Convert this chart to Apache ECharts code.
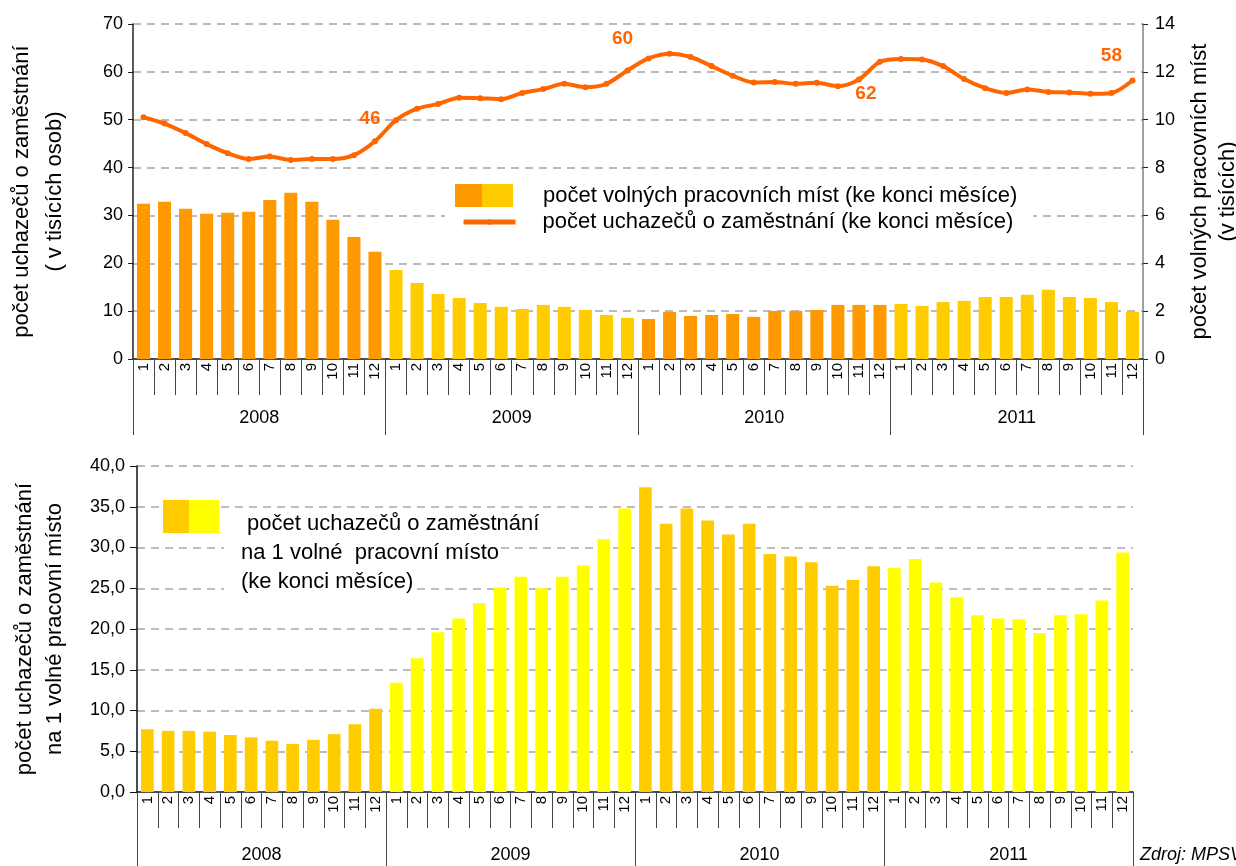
<!DOCTYPE html>
<html>
<head>
<meta charset="utf-8">
<script src="https://cdn.jsdelivr.net/npm/echarts@6/dist/echarts.min.js"></script>
<style>
  html, body { margin: 0; padding: 0; background: #fff; }
  #main { width: 1236px; height: 866px; }
</style>
</head>
<body>
<div id="main"></div>
<script>
// roky a měsíce (popisky osy x)
var years = ['2008', '2009', '2010', '2011'];
var monthLabels = ['1', '2', '3', '4', '5', '6', '7', '8', '9', '10', '11', '12'];

// počet volných pracovních míst (v tisících) - pravá osa
var vacancies = [
  6.49, 6.57, 6.28, 6.07, 6.11, 6.15, 6.65, 6.95, 6.57, 5.82, 5.10, 4.48,
  3.72, 3.18, 2.72, 2.55, 2.34, 2.18, 2.09, 2.26, 2.18, 2.05, 1.84, 1.72,
  1.67, 1.97, 1.80, 1.84, 1.88, 1.76, 2.01, 2.01, 2.05, 2.26, 2.26, 2.26,
  2.30, 2.22, 2.38, 2.43, 2.59, 2.59, 2.68, 2.89, 2.59, 2.55, 2.38, 1.97
];

// počet uchazečů o zaměstnání (v tisících osob) - levá osa
var seekers = [
  50.5, 49.2, 47.2, 44.9, 43.0, 41.8, 42.3, 41.6, 41.8, 41.8, 42.6, 45.5,
  49.9, 52.3, 53.3, 54.6, 54.5, 54.3, 55.6, 56.4, 57.5, 56.8, 57.5, 60.3,
  62.8, 63.8, 63.1, 61.2, 59.2, 57.8, 57.9, 57.5, 57.7, 57.0, 58.4, 62.1,
  62.7, 62.6, 61.2, 58.5, 56.6, 55.6, 56.3, 55.8, 55.7, 55.4, 55.6, 58.2
];

// počet uchazečů na 1 volné pracovní místo
var seekersPerVacancy = [
  7.7, 7.5, 7.5, 7.4, 7.0, 6.7, 6.3, 5.9, 6.4, 7.1, 8.3, 10.2,
  13.4, 16.4, 19.6, 21.3, 23.2, 25.1, 26.4, 25.0, 26.4, 27.8, 31.0, 34.8,
  37.4, 32.9, 34.8, 33.3, 31.6, 32.9, 29.2, 28.9, 28.2, 25.3, 26.0, 27.7,
  27.5, 28.6, 25.7, 23.9, 21.7, 21.3, 21.2, 19.5, 21.7, 21.8, 23.5, 29.4
];

// popisky u čáry (index měsíce, text)
var noteIndex = [11, 23, 34, 46];
var noteText = ['46', '60', '62', '58'];

var FONT = 'Liberation Sans, Arial, sans-serif';
var categories = [];
years.forEach(function () {
  monthLabels.forEach(function (m) { categories.push(m); });
});

var topColors = ['#FF9900', '#FFCC00'];
var bottomColors = ['#FFCC00', '#FFFF00'];
var NAME_BAR = 'počet volných pracovních míst (ke konci měsíce)';
var NAME_LINE = 'počet uchazečů o zaměstnání (ke konci měsíce)';

// umístění popisků u čáry
var noteLayout = [
  { position: 'top', distance: 10, offset: [-5, 0] },
  { position: 'top', distance: 19, offset: [-5, 0] },
  { position: 'bottom', distance: 2, offset: [7, 0] },
  { position: 'top', distance: 25, offset: [0, 0] }
];

var lineData = seekers.map(function (v, i) {
  var k = noteIndex.indexOf(i);
  if (k < 0) return v;
  return {
    value: v,
    label: {
      show: true,
      formatter: noteText[k],
      position: noteLayout[k].position,
      distance: noteLayout[k].distance,
      offset: noteLayout[k].offset,
      color: '#FF6600',
      fontWeight: 'bold',
      fontSize: 19,
      fontFamily: FONT
    }
  };
});

function twoTone(c1, c2) {
  return new echarts.graphic.LinearGradient(0, 0, 1, 0, [
    { offset: 0, color: c1 }, { offset: 0.47, color: c1 },
    { offset: 0.47, color: c2 }, { offset: 1, color: c2 }
  ]);
}

var dashed = { show: true, lineStyle: { color: '#A6A6A6', type: [8, 6], width: 1.5 } };

var monthAxis = function (gridIndex) {
  return {
    type: 'category', gridIndex: gridIndex, data: categories,
    axisLine: { show: true, lineStyle: { color: '#222', width: 1.5 } },
    axisTick: { show: true, interval: 0, length: 36, lineStyle: { color: '#444' } },
    axisLabel: { show: true, interval: 0, rotate: 90, margin: 4, fontSize: 15, color: '#000', fontFamily: FONT }
  };
};
var yearAxis = function (gridIndex, tickLen, margin) {
  return {
    type: 'category', gridIndex: gridIndex, data: years, position: 'bottom',
    axisLine: { show: false },
    axisTick: { show: true, interval: 0, length: tickLen, lineStyle: { color: '#444' } },
    axisLabel: { show: true, margin: margin, fontSize: 18, color: '#000', fontFamily: FONT }
  };
};

var chart = echarts.init(document.getElementById('main'));
chart.setOption({
  animation: false,
  backgroundColor: '#fff',
  textStyle: { fontFamily: FONT },
  grid: [
    { left: 133, right: 93, top: 24, height: 335, outerBoundsMode: 'none', containLabel: false },
    { left: 137, right: 103, top: 466, height: 326, outerBoundsMode: 'none', containLabel: false }
  ],
  legend: [
    {
      left: 445, top: 182,
      backgroundColor: '#fff', padding: [2, 20, 2, 10],
      itemWidth: 58, itemHeight: 23,
      textStyle: { fontSize: 22, color: '#000', fontFamily: FONT, padding: [0, 0, 0, 25] },
      data: [
        { name: NAME_BAR, icon: 'rect', itemStyle: { color: twoTone('#FF9900', '#FFCC00') } }
      ]
    },
    {
      left: 445, top: 209,
      backgroundColor: '#fff', padding: [0, 20, 0, 16],
      itemWidth: 52, itemHeight: 7,
      textStyle: { fontSize: 22, color: '#000', lineHeight: 26, fontFamily: FONT, padding: [0, 0, 0, 22] },
      data: [
        { name: NAME_LINE, lineStyle: { width: 5, color: '#FF6600' }, itemStyle: { color: '#FF6600' } }
      ]
    },
    {
      left: 163, top: 462, padding: 0,
      itemWidth: 56, itemHeight: 33,
      formatter: function () {
        return '{g|}\n{t| počet uchazečů o zaměstnání}\n{t|na 1 volné  pracovní místo}\n{t|(ke konci měsíce)}';
      },
      textStyle: {
        fontSize: 22, color: '#000', fontFamily: FONT,
        rich: {
          g: { height: 73 },
          t: { fontSize: 22, lineHeight: 29, backgroundColor: '#fff', padding: [0, 0, 0, 17], fontFamily: FONT, color: '#000' }
        }
      },
      data: [
        { name: 'podíl', icon: 'rect', itemStyle: { color: twoTone('#FFCC00', '#FFFF00') } }
      ]
    }
  ],
  xAxis: [
    monthAxis(0), yearAxis(0, 76, 50),
    monthAxis(1), yearAxis(1, 80, 54)
  ],
  yAxis: [
    {
      type: 'value', gridIndex: 0, min: 0, max: 70, interval: 10,
      name: 'počet uchazečů o zaměstnání\n( v tisících osob)',
      nameLocation: 'middle', nameRotate: 90, nameGap: 62,
      nameTextStyle: { fontSize: 22, color: '#000', lineHeight: 33, fontFamily: FONT },
      axisLine: { show: true, lineStyle: { color: '#222', width: 1.5 } },
      axisTick: { show: true, length: 5, lineStyle: { color: '#222' } },
      axisLabel: { fontSize: 18, color: '#000', margin: 10, fontFamily: FONT },
      splitLine: dashed
    },
    {
      type: 'value', gridIndex: 0, min: 0, max: 14, interval: 2, position: 'right',
      name: 'počet volných pracovních míst\n(v tisících)',
      nameLocation: 'middle', nameRotate: 90, nameGap: 40,
      nameTextStyle: { fontSize: 22, color: '#000', lineHeight: 28, fontFamily: FONT },
      axisLine: { show: true, lineStyle: { color: '#808080', width: 1.5 } },
      axisTick: { show: true, length: 5, lineStyle: { color: '#222' } },
      axisLabel: { fontSize: 18, color: '#000', margin: 12, fontFamily: FONT },
      splitLine: { show: false }
    },
    {
      type: 'value', gridIndex: 1, min: 0, max: 40, interval: 5,
      name: 'počet uchazečů o zaměstnání\nna 1 volné pracovní místo',
      nameLocation: 'middle', nameRotate: 90, nameGap: 67,
      nameTextStyle: { fontSize: 22, color: '#000', lineHeight: 30, fontFamily: FONT },
      axisLine: { show: true, lineStyle: { color: '#111', width: 1.5 } },
      axisTick: { show: true, length: 7, lineStyle: { color: '#111' } },
      axisLabel: {
        fontSize: 18, color: '#000', margin: 12, fontFamily: FONT,
        formatter: function (v) { return v.toFixed(1).replace('.', ','); }
      },
      splitLine: dashed
    }
  ],
  series: [
    {
      name: NAME_BAR,
      type: 'bar', xAxisIndex: 0, yAxisIndex: 1, barWidth: '62%',
      data: vacancies,
      itemStyle: { color: function (p) { return topColors[Math.floor(p.dataIndex / 12) % 2]; } }
    },
    {
      name: NAME_LINE,
      type: 'line', xAxisIndex: 0, yAxisIndex: 0,
      data: lineData, smooth: 0.3,
      symbol: 'circle', symbolSize: 6,
      lineStyle: { color: '#FF6600', width: 4 },
      itemStyle: { color: '#FF6600' },
      z: 5
    },
    {
      name: 'podíl',
      type: 'bar', xAxisIndex: 2, yAxisIndex: 2, barWidth: '61%',
      data: seekersPerVacancy,
      itemStyle: { color: function (p) { return bottomColors[Math.floor(p.dataIndex / 12) % 2]; } }
    }
  ],
  graphic: [
    { type: 'text', left: 1140, top: 846,
      style: { text: 'Zdroj: MPSV', fontSize: 18, fontStyle: 'italic', fill: '#000', fontFamily: FONT } }
  ]
});
</script>
</body>
</html>
